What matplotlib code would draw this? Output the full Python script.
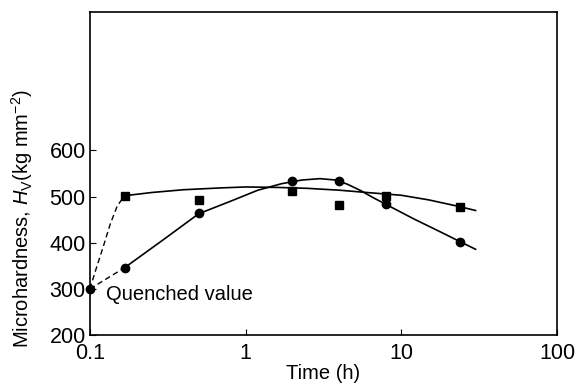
import matplotlib
matplotlib.use("Agg")
import matplotlib.pyplot as plt

# measured points (circles and squares)
circ_t = [0.1, 0.167, 0.5, 2, 4, 8, 24]
circ_hv = [300, 346, 464, 533, 533, 483, 402]
sq_t = [0.167, 0.5, 2, 4, 8, 24]
sq_hv = [501, 492, 512, 481, 502, 478]

# hand-drawn fit curves
sq_fit_t = [0.167, 0.25, 0.4, 0.7, 1.0, 1.6, 2.5, 4, 6, 10, 15, 24, 30]
sq_fit_hv = [502, 509, 515, 519, 521, 520, 518, 514, 509, 503, 493, 478, 470]
circ_fit_t = [0.167, 0.3, 0.5, 0.8, 1.2, 1.7, 2.3, 3.0, 3.8, 4.5, 5.5, 6.5, 8, 12, 18, 24, 30]
circ_fit_hv = [346, 408, 463, 490, 514, 528, 536, 539, 536, 527, 513, 499, 483, 452, 423, 402, 386]

# dashed lines from the quenched value
dash_circ_t = [0.1, 0.167]
dash_circ_hv = [300, 346]
dash_sq_t = [0.1, 0.11, 0.122, 0.135, 0.15, 0.167]
dash_sq_hv = [300, 345, 392, 440, 480, 502]

xticks = [0.1, 1, 10, 100]
xticklabels = ["0.1", "1", "10", "100"]
yticks = [200, 300, 400, 500, 600]

plt.rcParams['font.family'] = ['Liberation Sans', 'DejaVu Sans']
plt.rcParams['mathtext.fontset'] = 'custom'
plt.rcParams['mathtext.rm'] = 'Liberation Sans'
plt.rcParams['mathtext.it'] = 'Liberation Sans:italic'

fig = plt.figure(figsize=(5.76, 3.87), dpi=100)
ax = fig.add_axes([0.156, 0.134, 0.811, 0.835])

ax.plot(sq_fit_t, sq_fit_hv, color='black', lw=1.2)
ax.plot(circ_fit_t, circ_fit_hv, color='black', lw=1.2)
ax.plot(dash_circ_t, dash_circ_hv, color='black', lw=1.0, ls=(0, (4, 2.5)))
ax.plot(dash_sq_t, dash_sq_hv, color='black', lw=1.0, ls=(0, (4, 2.5)))
ax.plot(circ_t, circ_hv, 'o', color='black', ms=6, zorder=3, clip_on=False)
ax.plot(sq_t, sq_hv, 's', color='black', ms=5.5, zorder=3)

ax.text(0.1265, 287, 'Quenched value', fontsize=14.5, ha='left', va='center')

ax.set_xscale('log')
ax.set_xlim(0.1, 100)
ax.set_ylim(200, 900)
ax.set_xticks(xticks)
ax.set_xticklabels(xticklabels)
ax.minorticks_off()
ax.set_yticks(yticks)
ax.tick_params(direction='in', length=4, labelsize=15.5)
ax.tick_params(axis='x', pad=6)
ax.tick_params(axis='y', pad=3)
for s in ax.spines.values():
    s.set_linewidth(1.2)

ax.set_xlabel('Time (h)', fontsize=14.5, labelpad=0)
ax.set_ylabel(r'Microhardness, $H_{\mathrm{V}}$(kg mm$^{-2}$)', fontsize=14.5)
ax.yaxis.set_label_coords(-0.118, 0.362)

fig.savefig('out.png', dpi=100)
